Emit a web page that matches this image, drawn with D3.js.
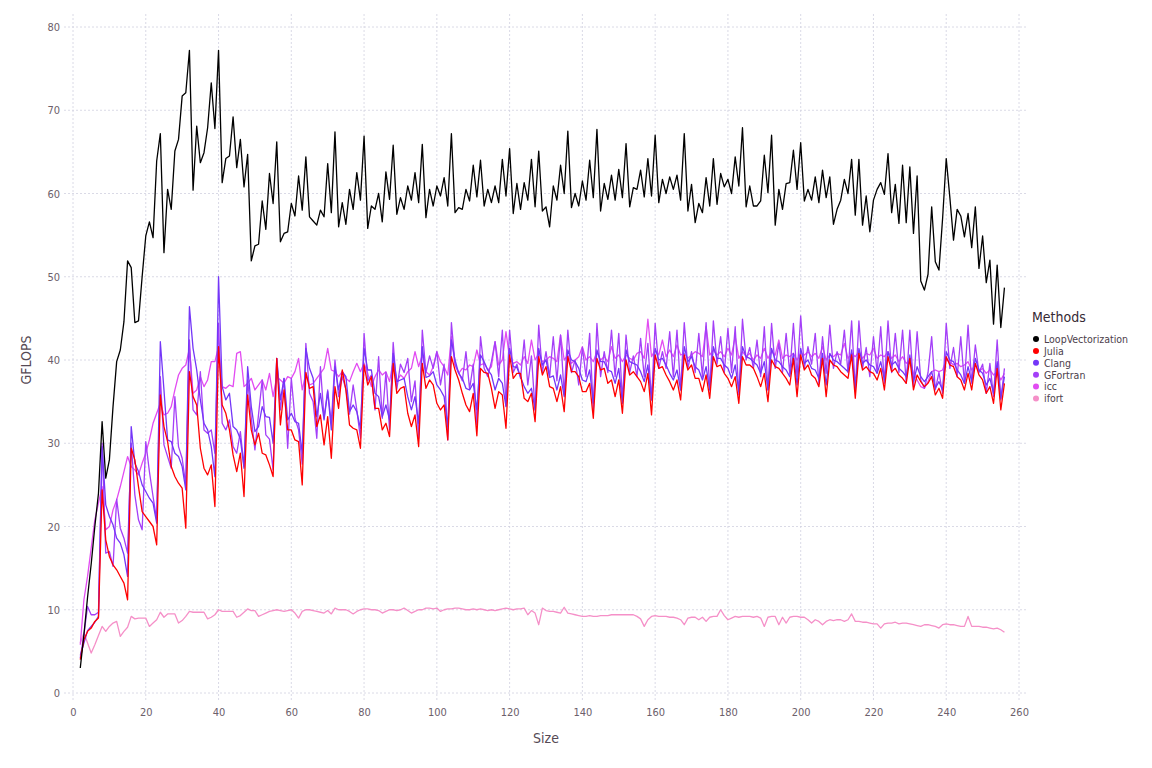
<!DOCTYPE html>
<html><head><meta charset="utf-8">
<script src="https://cdn.jsdelivr.net/npm/d3@7"></script>
<style>
body{margin:0;background:#fff;}
svg{display:block;}
.tick text{font-family:"DejaVu Sans Condensed","Liberation Sans Narrow","Open Sans",sans-serif;font-stretch:condensed;}
</style></head>
<body><svg id="c" width="1152" height="768"></svg>
<script>
const sizes = d3.range(2, 257);
const xTicks = [0,20,40,60,80,100,120,140,160,180,200,220,240,260];
const yTicks = [0,10,20,30,40,50,60,70,80];
const methods = ["LoopVectorization","Julia","Clang","GFortran","icc","ifort"];
const colors = ["#000000","#FF0000","#7436F8","#A43FF8","#E24CF2","#F590C8"];

const loopVectorization = [
3.0,7.0,11.5,15.5,20.0,24.0,32.6,25.8,28.0,34.4,
39.8,41.2,44.6,51.9,51.1,44.5,44.7,50.0,54.9,56.6,
54.7,63.9,67.2,52.9,60.5,58.1,65.1,66.5,71.7,72.1,
77.2,60.4,68.1,63.7,64.9,67.9,73.3,67.8,77.2,61.3,
64.2,64.5,69.2,63.1,66.5,60.8,64.7,51.9,53.7,53.9,
59.1,55.7,62.4,58.8,66.2,54.2,55.2,55.4,58.8,57.3,
62.1,58.0,64.4,57.2,56.7,56.2,58.0,57.2,63.6,57.7,
67.4,56.0,58.9,56.3,60.5,58.1,62.5,59.2,66.9,55.8,
58.5,58.1,60.0,56.6,62.6,59.3,65.8,57.5,59.5,58.1,
60.9,59.2,62.5,58.9,65.9,57.1,60.5,58.5,60.9,59.7,
61.9,58.5,67.2,57.7,58.3,58.1,60.5,59.1,63.4,59.6,
64.0,58.5,60.5,58.9,60.9,58.9,64.1,59.7,65.4,57.6,
61.2,58.1,61.3,59.2,64.1,58.4,65.1,57.9,58.4,56.0,
60.9,59.2,63.4,60.0,67.5,58.3,60.0,58.5,61.5,59.2,
64.0,59.5,67.7,57.9,61.2,59.3,62.2,59.2,62.9,59.5,
66.0,58.4,60.7,60.5,62.8,59.6,64.2,59.7,67.0,58.9,
61.7,60.0,62.0,60.5,62.2,59.2,67.2,57.9,61.1,56.5,
58.8,57.7,61.9,58.5,64.2,58.7,62.4,60.8,61.7,60.0,
64.4,60.9,67.9,58.4,60.9,58.5,58.5,59.1,64.6,60.1,
67.0,56.2,60.5,58.1,61.2,61.3,65.2,60.5,66.1,59.1,
60.5,59.2,62.0,58.9,62.8,59.5,62.0,56.3,58.1,59.2,
61.7,60.0,64.1,57.4,64.1,56.2,59.7,55.4,59.2,60.5,
61.3,59.9,64.8,57.7,61.1,56.4,63.4,56.5,63.2,55.2,
62.1,49.5,48.4,50.3,58.4,51.8,50.8,57.0,64.2,59.5,
54.4,58.1,57.3,54.8,57.6,53.5,58.4,51.0,54.9,49.3,
52.0,44.3,51.4,43.9,48.7];

const julia = [
4.0,6.4,7.4,7.8,8.6,9.0,24.4,18.4,16.4,15.4,
14.8,14.0,13.2,11.2,29.4,28.0,24.8,21.8,21.2,20.6,
20.0,17.8,35.8,32.0,30.2,27.2,26.0,25.2,24.6,19.8,
38.6,35.6,34.6,29.4,27.0,26.2,27.4,22.4,41.6,34.6,
33.6,31.6,28.6,26.6,28.8,23.6,35.8,31.6,29.8,31.2,
28.8,28.6,27.4,26.0,40.2,32.2,36.4,31.6,31.6,30.4,
30.2,25.0,38.5,36.6,36.8,32.0,33.4,29.8,33.2,28.2,
36.8,34.2,38.8,36.4,32.2,31.8,31.6,29.4,39.4,37.0,
38.0,34.2,34.2,31.6,32.4,30.8,39.6,36.0,36.6,36.8,
33.6,32.0,33.4,29.6,39.6,36.6,37.6,37.0,34.8,34.0,
34.6,30.4,40.4,38.8,37.6,36.0,34.6,33.8,36.0,30.9,
39.0,38.5,38.4,36.6,34.2,36.2,35.8,31.8,40.6,37.8,
38.4,38.4,35.4,35.0,36.0,32.6,40.4,38.2,39.2,36.8,
36.6,35.0,36.8,33.8,40.4,38.6,38.6,38.0,36.2,36.2,
37.2,33.0,40.2,38.8,39.0,37.2,37.6,35.6,37.6,33.6,
40.0,38.2,38.6,38.0,37.4,36.2,38.4,33.4,40.6,39.0,
39.2,38.2,37.4,36.4,37.6,35.2,40.6,38.8,39.4,37.8,
37.8,36.2,38.2,35.4,40.4,39.2,39.4,38.4,37.8,36.8,
38.0,34.8,40.4,39.4,39.4,39.0,38.0,36.8,38.4,35.0,
40.0,39.2,39.0,38.4,37.8,37.0,40.2,35.6,40.6,38.8,
39.4,38.2,37.8,36.8,40.2,35.6,40.0,39.4,39.2,38.6,
38.2,37.8,40.6,35.4,40.8,38.8,39.2,38.6,38.4,37.6,
39.0,36.4,40.4,38.6,39.0,38.2,37.8,37.2,40.2,36.4,
38.2,37.4,36.8,37.2,38.0,35.8,36.6,35.4,40.4,39.4,
39.2,38.0,37.6,36.4,38.4,36.4,39.6,38.2,37.6,36.0,
36.8,34.8,39.0,34.0,37.2];

const clang = [
4.5,6.0,7.5,8.0,8.5,9.2,29.6,22.6,21.2,20.2,
18.6,18.0,16.6,14.0,32.0,27.6,26.6,25.0,24.2,23.4,
22.8,20.4,42.2,36.4,30.4,30.2,28.8,28.4,27.2,24.4,
46.4,41.4,38.8,35.2,32.4,31.6,29.6,26.0,50.0,36.8,
35.2,36.0,32.0,31.6,30.5,27.0,39.2,34.4,31.4,32.0,
34.4,33.2,33.1,30.0,40.2,35.2,37.8,32.8,33.6,32.6,
32.4,28.8,41.4,39.0,37.8,33.2,36.0,32.8,36.2,31.6,
39.2,36.4,38.6,38.0,33.8,34.6,33.8,31.8,41.4,38.8,
38.8,36.0,35.6,33.2,34.6,32.8,40.8,37.4,37.6,37.8,
35.6,34.0,35.6,32.4,41.6,37.9,38.1,38.6,37.0,36.4,
35.6,32.0,42.4,40.0,38.4,37.8,36.6,36.4,37.2,34.0,
40.6,39.8,38.8,38.2,36.4,37.8,37.2,34.4,41.4,39.2,
39.1,38.0,36.8,36.0,36.6,34.0,41.4,39.4,40.0,37.9,
38.1,36.4,38.2,35.6,41.2,40.0,39.8,39.0,37.6,37.4,
38.8,34.8,41.2,39.8,39.8,38.8,38.6,37.2,39.0,34.8,
41.2,39.8,39.6,39.4,38.6,37.4,39.4,35.2,41.4,40.0,
40.2,39.4,38.4,37.6,38.8,36.4,41.6,39.8,40.4,39.2,
38.8,37.6,39.2,36.4,41.6,40.2,40.2,39.4,39.0,37.8,
39.4,36.2,41.6,40.4,40.2,39.8,39.4,38.4,39.8,36.4,
41.4,40.0,39.8,39.2,38.8,38.0,40.8,37.0,41.4,39.6,
40.0,39.0,38.8,37.8,40.8,37.0,40.8,40.0,39.8,39.4,
39.0,38.6,41.2,36.6,41.4,39.6,40.0,39.4,39.2,38.4,
39.8,37.6,41.0,39.4,39.8,39.0,38.6,38.0,40.6,37.4,
39.2,38.0,37.4,38.0,38.6,36.6,37.4,36.4,41.0,40.0,
39.8,38.8,38.2,37.2,39.2,37.4,40.2,38.8,38.4,37.0,
37.8,36.0,39.8,35.4,38.0];

const gfortran = [
4.2,7.0,10.4,9.4,9.4,9.7,30.0,16.8,17.0,15.2,
23.3,19.8,18.6,16.8,30.0,23.8,20.8,19.6,30.2,26.6,
23.6,20.8,38.0,29.8,28.4,27.0,35.6,29.6,28.2,25.0,
42.4,34.0,33.4,38.6,31.6,31.2,31.6,28.8,44.4,32.4,
31.6,32.8,29.6,28.8,31.4,27.2,37.6,33.0,29.2,33.5,
37.6,31.0,30.5,26.8,40.2,34.0,37.8,29.4,37.8,33.0,
31.6,27.5,42.0,36.0,35.0,30.6,39.2,33.0,36.4,32.4,
40.0,35.6,38.0,36.5,33.5,37.0,34.0,30.6,43.2,37.5,
38.2,34.0,40.4,33.0,38.5,31.6,42.1,36.5,39.5,38.5,
40.2,35.0,37.5,30.6,43.6,38.5,40.5,39.0,41.0,37.0,
39.5,30.4,44.5,39.5,38.5,37.5,41.0,36.5,39.5,32.2,
42.8,39.0,38.0,39.8,42.2,38.0,43.6,34.5,43.6,38.5,
39.5,37.8,42.4,37.0,40.5,34.0,44.2,38.5,41.0,38.0,
42.8,37.5,43.0,35.8,43.6,38.5,40.0,37.0,41.5,38.0,
43.2,34.0,44.4,38.0,41.0,38.5,43.6,38.0,43.2,35.2,
43.0,38.5,40.5,38.0,42.6,38.0,42.0,35.2,44.4,39.0,
41.0,39.0,43.4,38.0,43.6,36.4,44.5,39.0,41.0,38.5,
43.2,38.0,44.5,36.4,44.7,39.5,42.8,38.5,43.8,38.5,
44.0,35.8,44.9,40.0,41.5,39.0,42.4,38.0,44.0,36.4,
44.4,39.0,42.0,38.5,43.2,38.4,44.4,38.0,45.3,39.0,
41.6,39.5,43.2,37.2,42.8,38.4,44.2,39.0,41.0,39.5,
43.6,38.5,44.7,36.4,44.7,39.0,41.5,38.0,42.8,38.5,
44.0,37.2,44.7,38.5,43.2,38.5,43.6,37.2,43.6,36.8,
43.4,37.6,36.6,38.5,42.8,36.4,38.5,36.0,44.4,39.0,
41.5,38.0,42.8,37.2,44.2,37.2,41.8,38.5,39.5,36.0,
39.6,35.6,42.4,35.2,39.0];

const icc = [
5.8,11.2,14.0,17.4,20.8,22.8,24.8,19.6,20.0,22.0,
23.2,24.8,26.6,28.4,27.2,26.8,26.2,27.6,28.8,30.4,
32.4,33.6,34.8,33.4,33.6,34.4,36.4,38.2,39.0,39.4,
41.4,36.0,36.4,38.0,36.8,37.6,39.8,39.8,41.6,36.8,
36.6,37.0,36.8,40.8,41.0,36.8,37.2,37.8,36.4,37.0,
37.6,36.4,38.4,35.6,38.0,37.6,37.2,38.0,37.8,38.6,
40.2,36.4,38.4,37.0,37.2,37.8,38.4,39.0,41.4,38.8,
38.6,38.0,38.6,37.8,37.4,38.6,39.6,38.6,39.6,38.4,
36.8,38.0,38.8,38.2,38.6,37.4,39.8,37.4,38.2,37.8,
38.6,39.0,41.0,39.2,40.6,38.6,38.2,39.2,41.0,39.8,
39.2,38.2,42.8,39.4,38.4,39.0,38.8,39.4,39.2,41.2,
39.4,39.6,38.8,39.2,42.2,39.4,40.0,43.4,40.2,39.6,
39.8,39.4,40.4,39.6,42.4,40.0,40.8,39.8,40.0,40.4,
40.2,39.8,43.0,40.0,40.6,39.6,40.0,40.4,41.6,40.0,
40.4,39.8,41.0,40.0,40.4,39.8,41.6,40.2,40.6,39.8,
40.6,40.2,40.0,40.8,41.0,40.2,44.9,40.4,41.2,40.6,
42.4,40.4,41.2,40.4,41.8,40.6,40.8,40.2,40.6,41.0,
40.8,40.4,44.0,40.6,41.2,40.6,41.0,40.4,41.4,40.6,
42.8,40.2,41.0,40.4,40.8,40.0,40.6,40.2,41.4,40.2,
41.0,40.6,42.4,40.2,40.6,40.4,40.8,40.0,40.8,40.6,
41.0,40.4,40.8,40.2,41.6,40.0,40.6,40.4,40.8,40.6,
42.0,40.2,40.8,40.4,41.0,40.2,40.8,40.6,41.4,40.2,
40.6,40.4,41.0,40.2,40.6,39.8,40.4,39.6,40.0,38.4,
37.6,36.8,36.6,37.4,38.6,38.8,38.6,38.8,40.0,39.8,
39.4,39.6,39.2,39.4,39.8,38.8,39.4,38.6,39.0,38.4,
38.8,38.2,38.6,37.6,38.4];

const ifort = [
6.0,7.2,6.0,4.8,5.8,6.9,8.0,7.4,8.0,8.4,
8.6,6.8,7.4,7.9,9.2,8.9,9.0,9.0,9.0,8.0,
8.4,8.8,9.7,9.1,9.5,9.5,9.5,8.4,8.7,9.2,
9.8,9.7,9.7,9.7,9.7,8.9,9.1,9.4,10.0,9.8,
9.8,9.8,9.8,9.1,9.3,9.7,10.1,9.9,9.9,9.2,
9.4,9.6,9.8,9.9,10.0,9.9,9.8,9.9,10.0,9.6,
9.0,9.8,10.0,10.0,9.9,9.8,9.7,9.6,9.9,9.5,
10.2,10.0,10.0,10.0,9.8,9.5,9.8,10.0,10.1,10.1,
10.0,10.0,9.9,9.6,9.8,10.0,10.0,9.9,10.0,10.2,
9.9,9.6,9.8,10.0,10.0,10.2,10.2,10.1,10.2,9.8,
10.0,10.1,10.1,10.2,10.2,10.1,10.0,10.0,10.1,10.0,
10.1,10.0,9.9,10.0,9.9,10.0,10.1,10.2,10.1,10.0,
10.1,10.1,10.2,9.4,9.9,9.6,8.2,10.2,9.9,9.8,
9.8,9.7,9.6,10.3,9.6,9.5,9.4,9.3,9.2,9.2,
9.3,9.2,9.2,9.3,9.3,9.3,9.4,9.4,9.4,9.4,
9.4,9.4,9.4,9.2,8.9,8.0,8.8,9.2,9.3,9.2,
9.2,9.2,9.1,9.1,9.0,8.8,8.2,9.0,9.1,9.1,
8.8,9.1,8.6,9.1,9.2,9.2,10.0,9.3,8.8,9.0,
9.2,9.1,9.2,9.2,9.2,9.1,9.2,9.0,8.0,9.1,
9.2,9.2,8.2,9.1,8.4,9.1,9.2,9.2,9.1,9.1,
8.8,8.4,8.8,8.6,8.2,8.6,8.8,8.7,8.8,8.8,
8.6,8.8,9.5,8.6,8.6,8.5,8.5,8.4,8.3,8.3,
7.8,8.3,8.4,8.4,8.5,8.3,8.4,8.4,8.3,8.2,
8.1,8.0,8.2,8.2,8.1,8.0,7.8,8.2,8.3,8.2,
8.2,8.1,8.0,8.0,9.2,8.0,8.0,8.0,7.9,7.9,
7.8,7.7,7.8,7.6,7.3];

const seriesValues = [loopVectorization, julia, clang, gfortran, icc, ifort];

const svg = d3.select("#c");
const x = d3.scaleLinear().domain([0, 260]).range([73, 1019]);
const y = d3.scaleLinear().domain([0, 80]).range([693, 27]);
const panel = {l: 64, r: 1028, t: 14, b: 702};
const gridColor = "#D0D0E0";
const labelFont = "'DejaVu Sans Condensed','Liberation Sans Narrow','Open Sans',sans-serif";

// grid
const g = svg.append("g");
g.selectAll("line.vx").data(xTicks).join("line")
  .attr("x1", d => x(d)).attr("x2", d => x(d))
  .attr("y1", panel.t).attr("y2", panel.b)
  .attr("stroke", gridColor).attr("stroke-width", 0.8).attr("stroke-dasharray", "2,2");
g.selectAll("line.hy").data(yTicks).join("line")
  .attr("x1", panel.l).attr("x2", panel.r)
  .attr("y1", d => y(d)).attr("y2", d => y(d))
  .attr("stroke", gridColor).attr("stroke-width", 0.8).attr("stroke-dasharray", "2,2");

// axes (labels only)
const xAxis = svg.append("g").attr("transform", `translate(0,${panel.b + 4})`)
  .call(d3.axisBottom(x).tickValues(xTicks).tickSize(0).tickPadding(2));
xAxis.select(".domain").remove();
xAxis.selectAll("text").attr("fill", "#6C606B").attr("font-size", 11).attr("font-family", labelFont);
const yAxis = svg.append("g").attr("transform", `translate(${panel.l - 2},0)`)
  .call(d3.axisLeft(y).tickValues(yTicks).tickSize(0).tickPadding(2));
yAxis.select(".domain").remove();
yAxis.selectAll("text").attr("fill", "#6C606B").attr("font-size", 11).attr("font-family", labelFont);

svg.append("text").attr("x", 546).attr("y", 743).attr("text-anchor", "middle")
  .attr("font-family", labelFont).attr("font-size", 14).attr("fill", "#564A55").text("Size");
svg.append("text").attr("transform", "translate(31,360) rotate(-90)").attr("text-anchor", "middle")
  .attr("font-family", labelFont).attr("font-size", 14).attr("fill", "#564A55").text("GFLOPS");

// lines
const line = d3.line().x((d, i) => x(sizes[i])).y(d => y(d));
const order = [5, 4, 3, 2, 1, 0];
svg.append("g").selectAll("path").data(order).join("path")
  .attr("d", k => line(seriesValues[k]))
  .attr("fill", "none").attr("stroke", k => colors[k])
  .attr("stroke-width", 1.3).attr("stroke-linejoin", "round");

// legend
const lg = svg.append("g");
lg.append("text").attr("x", 1032).attr("y", 322).attr("font-family", labelFont)
  .attr("font-size", 14).attr("fill", "#362A35").text("Methods");
const items = lg.selectAll("g.item").data(methods).join("g")
  .attr("transform", (d, i) => `translate(1036,${339 + i * 11.9})`);
items.append("circle").attr("r", 3).attr("fill", (d, i) => colors[i]);
items.append("text").attr("x", 8).attr("y", 3.8).attr("font-family", labelFont)
  .attr("font-size", 10.5).attr("fill", "#4C404B").text(d => d);
</script></body></html>
